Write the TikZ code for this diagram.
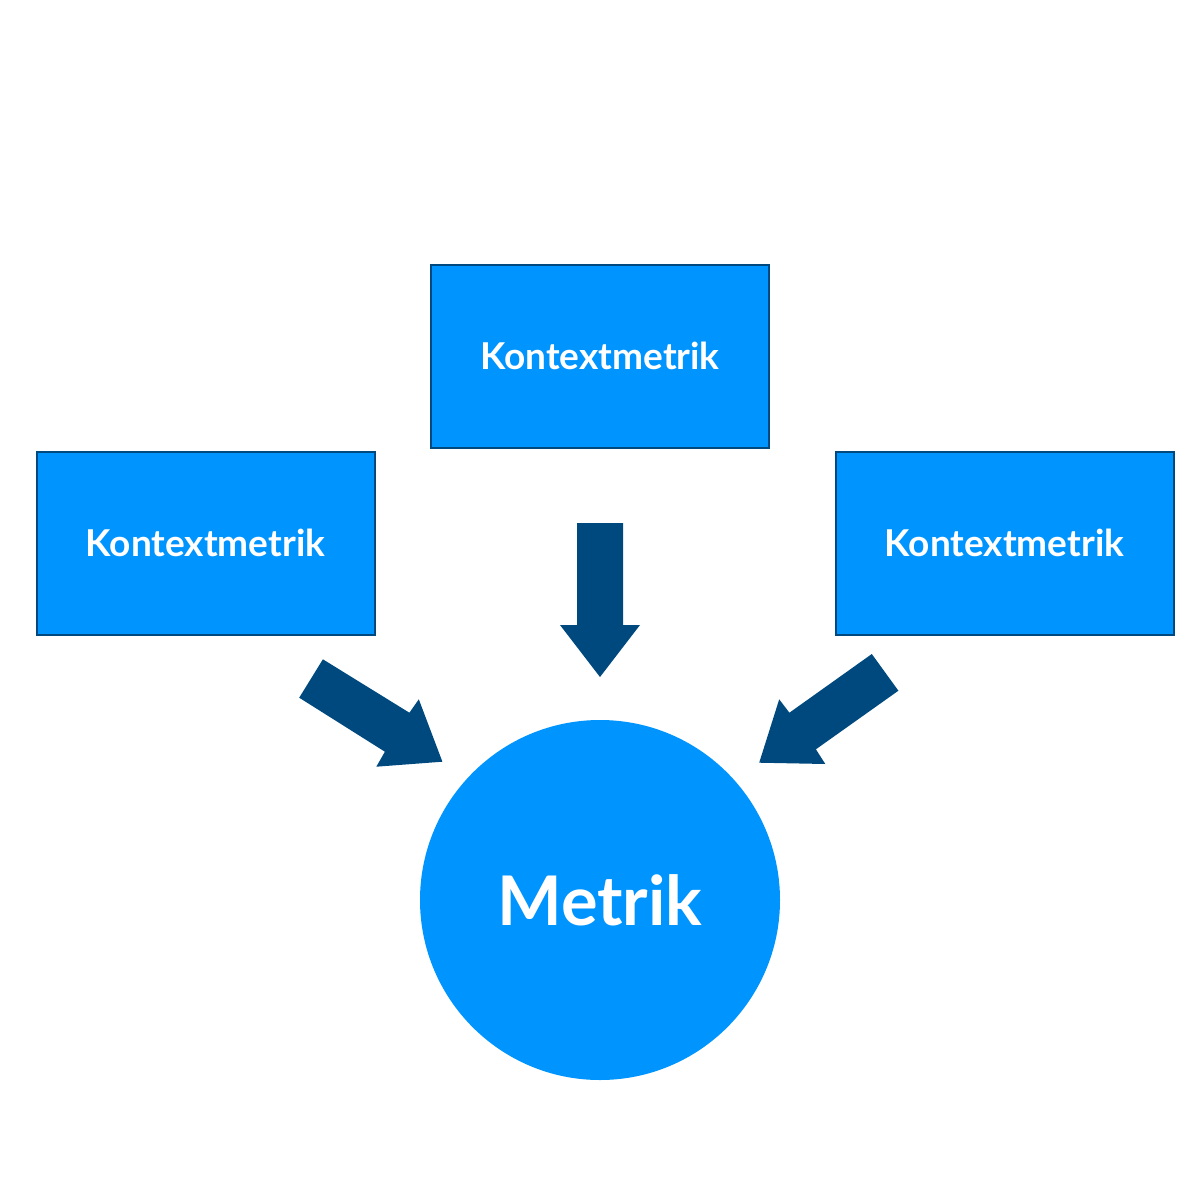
\documentclass[tikz,border=0pt]{standalone}
\usepackage{fontspec}
\setmainfont{Lato}
\definecolor{boxblue}{HTML}{0094FF}
\definecolor{darkblue}{HTML}{00497E}
\tikzset{
  ctxbox/.style={draw=darkblue, line width=2pt, fill=boxblue, minimum width=338pt, minimum height=183pt, inner sep=0pt, text=white, font=\fontsize{37}{44}\selectfont\bfseries},
  mcircle/.style={circle, fill=boxblue, minimum size=360pt, inner sep=0pt, text=white, font=\fontsize{68.5}{80}\selectfont\bfseries},
  blockarrow/.style={fill=darkblue, draw=none}
}
\begin{document}
\begin{tikzpicture}[x=1pt,y=-1pt]
\useasboundingbox (0,0) rectangle (1200,1200);
\node[ctxbox] (top) at (600,356) {Kontextmetrik};
\node[ctxbox] (left) at (205.5,543) {Kontextmetrik};
\node[ctxbox] (right) at (1004.5,543) {Kontextmetrik};
\node[mcircle] (metrik) at (600,900) {Metrik};
% center arrow
\fill[blockarrow] (577,523) -- (623,523) -- (623,625) -- (640,625) -- (600,677) -- (560,625) -- (577,625) -- cycle;
% left arrow
\fill[blockarrow] (322.9,659.3) -- (409.4,712.7) -- (418.8,699.3) -- (442.4,761.7) -- (376.3,766.7) -- (384.9,751.7) -- (299.2,697.7) -- cycle;
% right arrow
\fill[blockarrow] (871.8,654) -- (898.4,690.7) -- (815.9,749.3) -- (825.3,764) -- (759.2,762.7) -- (779.2,699.3) -- (789.4,712.7) -- cycle;
\end{tikzpicture}
\end{document}
